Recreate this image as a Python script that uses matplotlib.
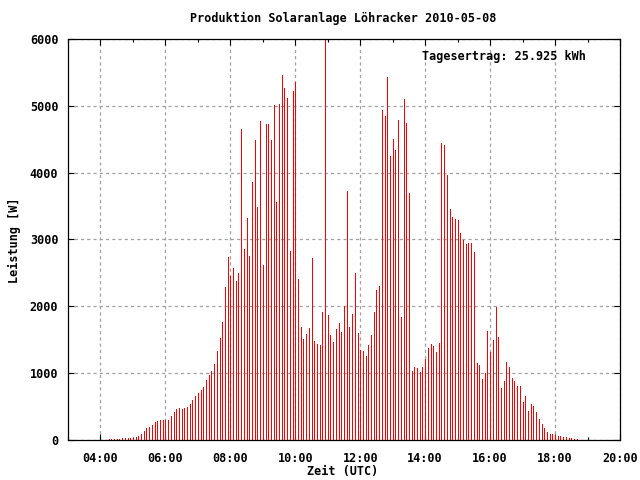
import matplotlib
matplotlib.use("Agg")
import matplotlib.pyplot as plt
from matplotlib.ticker import MultipleLocator, FuncFormatter
import numpy as np

# Leistungswerte [W], alle 5 Minuten ab 04:15 UTC
start_time = "04:15"
step_min = 5
leistung = [
    15, 15, 15, 15, 15, 35, 30, 30, 30, 35, 50, 65, 90, 135, 180, 195,
    225, 270, 285, 300, 300, 305, 300, 360, 420, 465, 480, 465, 480, 495,
    540, 600,
    658, 703, 747, 792, 897, 972, 1031, 1136, 1330, 1525, 1764, 2287, 2735,
    2451, 2571, 2377, 2496, 4649, 2855, 3318, 2750, 3857, 4484, 3483, 4768,
    2616, 4723, 4723, 4484, 5007, 3558, 5022, 5456, 5262, 5112, 2825, 5217,
    5351,
    2407, 1689, 1510, 1584, 1674, 2720, 1480, 1435, 1420, 1913, 6000, 1868,
    1570, 1465, 1659, 1749, 1614, 2003, 3722, 1689, 1883, 2496, 1599, 1345,
    1330, 1256, 1420, 1570, 1913, 2242, 2302, 4933, 4843, 5426, 4245, 4499,
    4335,
    4783, 1839, 5097, 4738, 3692, 1031, 1091, 1076, 1016, 1091, 1211, 1375,
    1435, 1405, 1315, 1450, 4439, 4410, 3961, 3453, 3333, 3303, 3288, 3094,
    2990, 2930, 2945, 2945, 2810, 1151, 1121, 912, 1002, 1629, 1315, 1495,
    1988,
    1540, 777, 882, 1166, 1091, 927, 882, 807, 807, 568, 658, 433, 538, 508,
    419, 314, 239, 179, 120, 90, 90, 75, 60, 60, 45, 45, 30, 30, 20, 15,
]
titel = "Produktion Solaranlage Löhracker 2010-05-08"
ertrag = "Tagesertrag: 25.925 kWh"

h, m = map(int, start_time.split(":"))
zeit = h + m / 60 + np.arange(len(leistung)) * step_min / 60

plt.rcParams["font.family"] = "DejaVu Sans Mono"
plt.rcParams["font.weight"] = "bold"
plt.rcParams["font.size"] = 8.5

fig = plt.figure(figsize=(6.4, 4.8), dpi=100)
ax = fig.add_axes([68 / 640, 40 / 480, 552 / 640, 401 / 480])

# 1 Pixel breite Impulse (wie gnuplot "with impulses")
ax.vlines(zeit, 0, leistung, color="#ff0000", linewidth=0.72, antialiased=False)

ax.set_xlim(3, 20)
ax.set_ylim(0, 6000)
ax.xaxis.set_major_locator(MultipleLocator(2))
ax.xaxis.set_minor_locator(MultipleLocator(1))
ax.yaxis.set_major_locator(MultipleLocator(1000))
ax.xaxis.set_major_formatter(FuncFormatter(lambda v, p: f"{int(v):02d}:00"))

ax.grid(True, which="major", color="#a0a0a0", linestyle=(0, (2.5, 2.5)), linewidth=0.9)
ax.set_axisbelow(True)
ax.tick_params(which="major", direction="in", length=4, width=0.8,
               top=True, right=True, pad=7)
ax.tick_params(which="minor", direction="in", length=2.5, width=0.8,
               top=True, right=True)
ax.tick_params(axis="x", which="major", pad=9)
for s in ax.spines.values():
    s.set_linewidth(0.9)

for lbl in ax.get_xticklabels() + ax.get_yticklabels():
    lbl.set_fontweight("bold")

ax.text(0.938, 0.972, ertrag, transform=ax.transAxes, ha="right", va="top",
        fontweight="bold")
fig.text(343 / 640, 1 - 18 / 480, titel, ha="center", va="center", fontweight="bold")
fig.text(343 / 640, 1 - 472 / 480, "Zeit (UTC)", ha="center", va="center", fontweight="bold")
fig.text(14 / 640, 0.5, "Leistung [W]", ha="center", va="center", rotation=90,
         fontweight="bold")

fig.savefig("out.png", dpi=100)
